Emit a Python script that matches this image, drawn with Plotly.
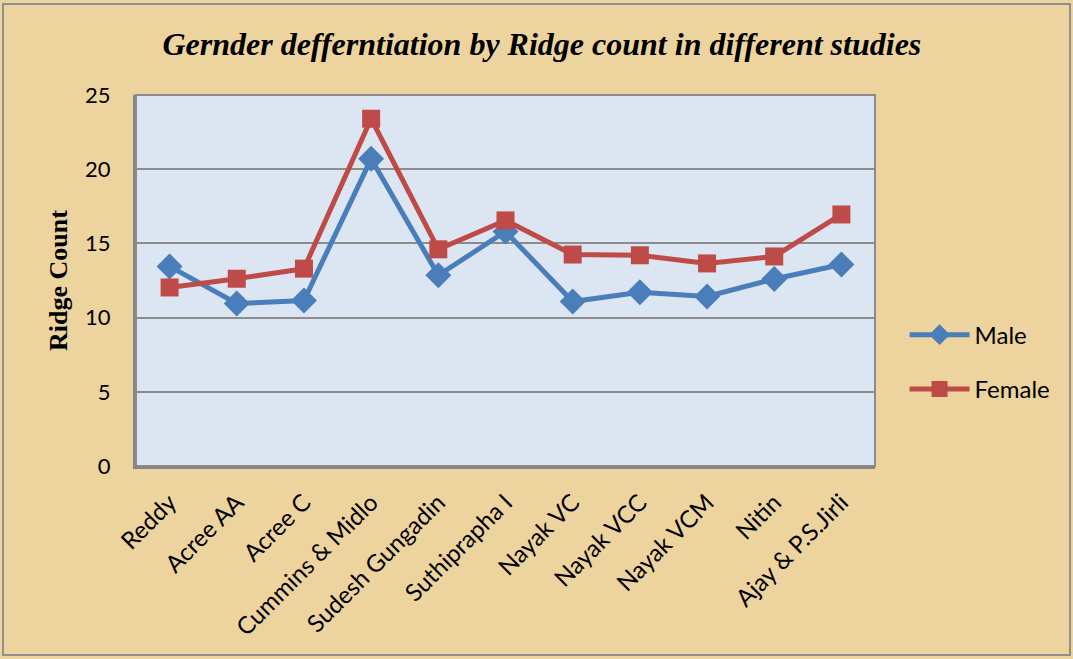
import plotly.graph_objects as go

categories = ["Reddy", "Acree AA", "Acree C", "Cummins & Midlo", "Sudesh Gungadin",
              "Suthiprapha I", "Nayak VC", "Nayak VCC", "Nayak VCM", "Nitin", "Ajay & P.S.Jirli"]
male = [13.45, 10.95, 11.15, 20.7, 12.85, 15.8, 11.08, 11.7, 11.42, 12.6, 13.58]
female = [12.03, 12.62, 13.3, 23.4, 14.6, 16.55, 14.25, 14.2, 13.65, 14.12, 16.95]
y_ticks = [0, 5, 10, 15, 20, 25]

fig = go.Figure()
fig.add_trace(go.Scatter(x=categories, y=male, name="Male", mode="lines+markers",
                         legendgroup="m",
                         line=dict(color="#4A7EBB", width=5),
                         marker=dict(symbol="diamond", size=20, color="#4A7EBB")))
fig.add_trace(go.Scatter(x=categories, y=female, name="Female", mode="lines+markers",
                         legendgroup="f",
                         line=dict(color="#BE4B48", width=5),
                         marker=dict(symbol="square", size=18, color="#BE4B48")))

fig.update_layout(
    width=1073, height=659,
    margin=dict(l=136, r=198, t=95, b=193),
    paper_bgcolor="#EDD49E",
    plot_bgcolor="#DCE6F2",
    title=dict(text="<b><i>Gernder defferntiation by Ridge count in different studies</i></b>",
               font=dict(family="Liberation Serif", size=32, color="black"),
               x=0.505, xanchor="center", y=0.933, yanchor="middle"),
    xaxis=dict(type="category", range=[-0.5, 10.5], tickangle=-45,
               tickfont=dict(family="Lato", size=24, color="black"),
               ticklabelstandoff=10,
               showgrid=False, showline=True, linecolor="#868686", linewidth=3,
               ticks="", mirror=False),
    yaxis=dict(range=[0, 25], tickvals=y_ticks, ticktext=[str(v) for v in y_ticks],
               tickfont=dict(family="Lato", size=22, color="black"),
               ticklabelstandoff=18,
               showgrid=True, gridcolor="#8C8C8C", gridwidth=2,
               showline=True, linecolor="#868686", linewidth=3,
               zeroline=False, ticks="", ticklen=0,
               title=dict(text="<b>Ridge Count</b>",
                          font=dict(family="Liberation Serif", size=26, color="black"),
                          standoff=10)),
    legend=dict(x=1.04, y=0.28, xanchor="left", yanchor="middle",
                font=dict(family="Lato", size=24, color="black"),
                bgcolor="rgba(0,0,0,0)", tracegroupgap=20, itemwidth=60),
    shapes=[dict(type="rect", xref="paper", yref="paper", x0=0, x1=1, y0=0, y1=1,
                 line=dict(width=2, color="#8C8C8C"), layer="below")],
)
fig.add_shape(type="rect", xref="paper", yref="paper",
              x0=-133/739, x1=1 + 195/739, y0=-189/371, y1=1 + 91/371,
              line=dict(width=2, color="#8F8F8F"), layer="below")
fig.write_html("out.html", config={"displayModeBar": False},
               post_script="document.body.style.margin='0';")
